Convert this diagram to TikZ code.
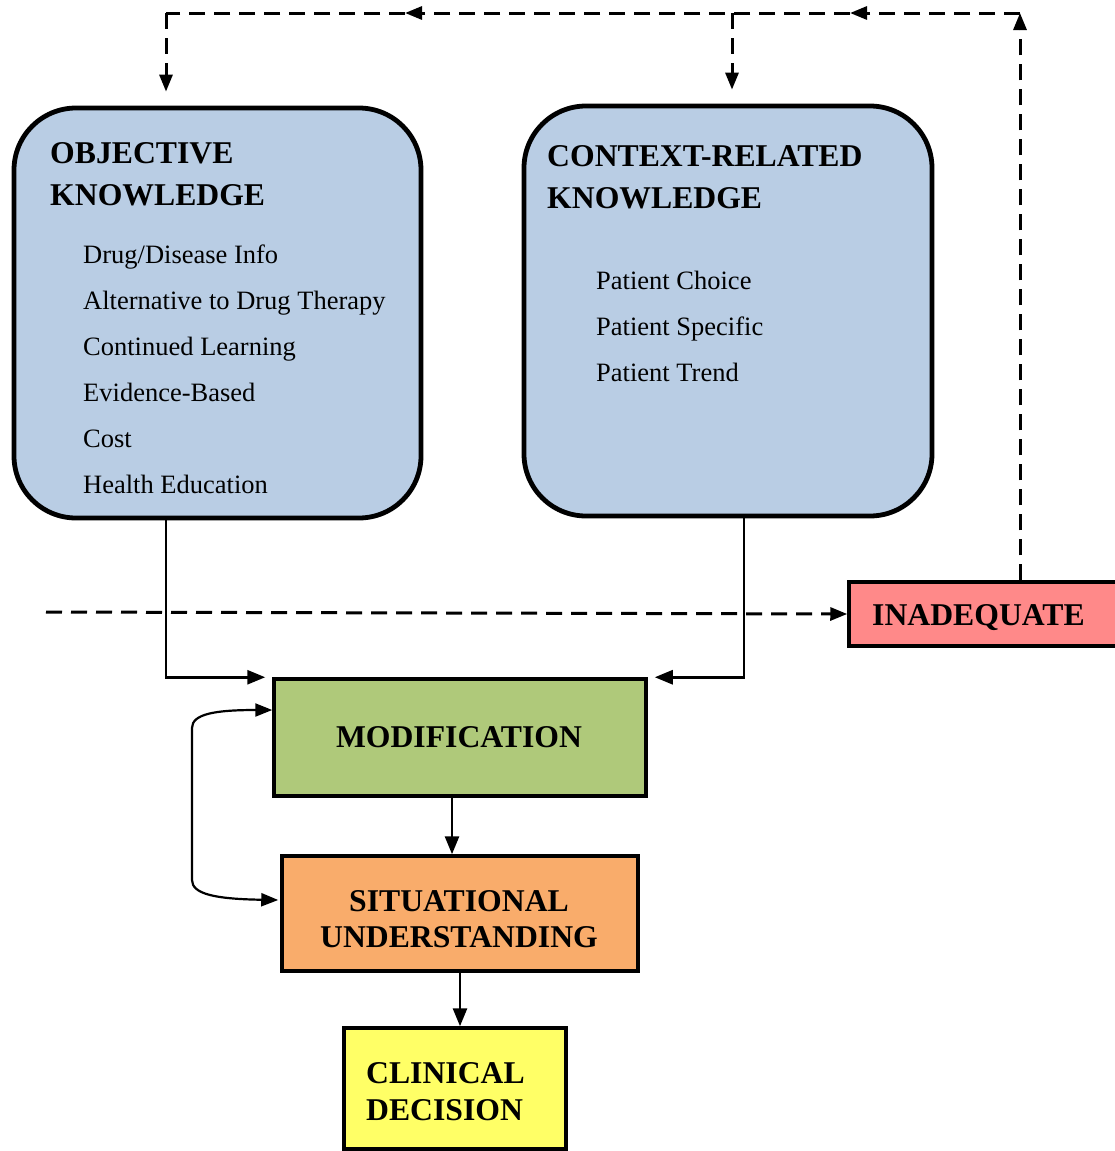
\documentclass[tikz,border=0pt]{standalone}
\usepackage{fontspec}
\setmainfont{Liberation Serif}
\usetikzlibrary{arrows.meta}
\definecolor{kblue}{RGB}{185,205,228}
\definecolor{mgreen}{RGB}{175,201,122}
\definecolor{sorange}{RGB}{249,172,107}
\definecolor{cyellow}{RGB}{255,255,102}
\definecolor{ired}{RGB}{255,137,137}
\begin{document}
\begin{tikzpicture}[x=1pt,y=-1pt,
 kbox/.style={draw=black,line width=4.8pt,rounded corners=62pt,fill=kblue,inner sep=0pt},
 rbox/.style={draw=black,line width=3.5pt,inner sep=0pt},
 conn/.style={line width=2.8pt,-{Triangle[length=18pt,width=14pt]}},
 dline/.style={line width=3pt,dash pattern=on 16pt off 9pt},
 darrow/.style={dline,-{Triangle[length=17pt,width=13pt]}},
 head/.style={font=\fontsize{31.7}{42}\selectfont\bfseries,anchor=base west,inner sep=0pt},
 chead/.style={font=\fontsize{31.7}{42}\selectfont\bfseries,anchor=base,inner sep=0pt},
 item/.style={font=\fontsize{26.5}{46}\selectfont,anchor=base west,inner sep=0pt},
]
\useasboundingbox (0,0) rectangle (1115,1151);

% boxes
\node[kbox,minimum width=407pt,minimum height=410pt] (obj) at (217.5,313) {};
\node[kbox,minimum width=408pt,minimum height=410pt] (ctx) at (728,311) {};
\node[rbox,fill=mgreen,minimum width=372pt,minimum height=117pt] (mod) at (460,737.5) {};
\node[rbox,fill=sorange,minimum width=356pt,minimum height=115pt] (sit) at (460,913.5) {};
\node[rbox,fill=cyellow,minimum width=222pt,minimum height=121pt] (clin) at (455,1088.5) {};
\node[rbox,fill=ired,minimum width=270pt,minimum height=64pt] (inad) at (984,614) {};

% texts
\node[head] (t1) at (50,163) {OBJECTIVE};
\node[head] (t2) at (50,205) {KNOWLEDGE};
\node[item] (o1) at (83,263) {Drug/Disease Info};
\node[item] (o2) at (83,309) {Alternative to Drug Therapy};
\node[item] (o3) at (83,355) {Continued Learning};
\node[item] (o4) at (83,401) {Evidence-Based};
\node[item] (o5) at (83,447) {Cost};
\node[item] (o6) at (83,493) {Health Education};

\node[head] (c1) at (547,166) {CONTEXT-RELATED};
\node[head] (c2) at (547,208) {KNOWLEDGE};
\node[item] (p1) at (596,289) {Patient Choice};
\node[item] (p2) at (596,335) {Patient Specific};
\node[item] (p3) at (596,381) {Patient Trend};

\node[chead] (mt) at (459,747) {MODIFICATION};
\node[chead] (s1) at (459,911) {SITUATIONAL};
\node[chead] (s2) at (459,947) {UNDERSTANDING};
\node[head] (d1) at (366,1083) {CLINICAL};
\node[head] (d2) at (366,1120) {DECISION};
\node[head] (it) at (872,625) {INADEQUATE};

% solid connectors
\draw[conn] ([xshift=-51.5pt]obj.south) |- ([xshift=-7pt]mod.north west);
\draw[conn] ([xshift=16pt]ctx.south) |- ([xshift=7pt]mod.north east);
\draw[conn] ([xshift=-8pt]mod.south) -- ([xshift=-8pt]mod.south |- sit.north);
\draw[conn] (sit.south) -- (sit.south |- clin.north);

% curved two-way arrow
\draw[line width=2.2pt,{Triangle[length=17pt,width=13pt]}-{Triangle[length=17pt,width=13pt]}]
  ([yshift=27.5pt]mod.west) .. controls (215,710) and (192,714) .. (192,728)
  -- (192,880) .. controls (192,894) and (215,899) .. ([yshift=13.5pt,xshift=-2pt]sit.west);

% dashed connectors
\coordinate (dstart) at (46,612);
\draw[darrow] (dstart) -- (inad.west);

\coordinate (tr) at (1020,13);
\coordinate (m2) at (850,13);
\coordinate (mid) at (732,13);
\coordinate (m1) at (405,13);
\coordinate (tl) at (166,13);
\draw[darrow] ([xshift=36pt]inad.north) -- (tr);
\draw[darrow] (tr) -- (m2);
\draw[darrow] (m2) -- (m1);
\draw[dline] (m1) -- (tl);
\draw[darrow] (tl) -- ([xshift=-51.5pt,yshift=14pt]obj.north);
\draw[darrow] (mid) -- ([xshift=4pt,yshift=14pt]ctx.north);
\end{tikzpicture}
\end{document}
